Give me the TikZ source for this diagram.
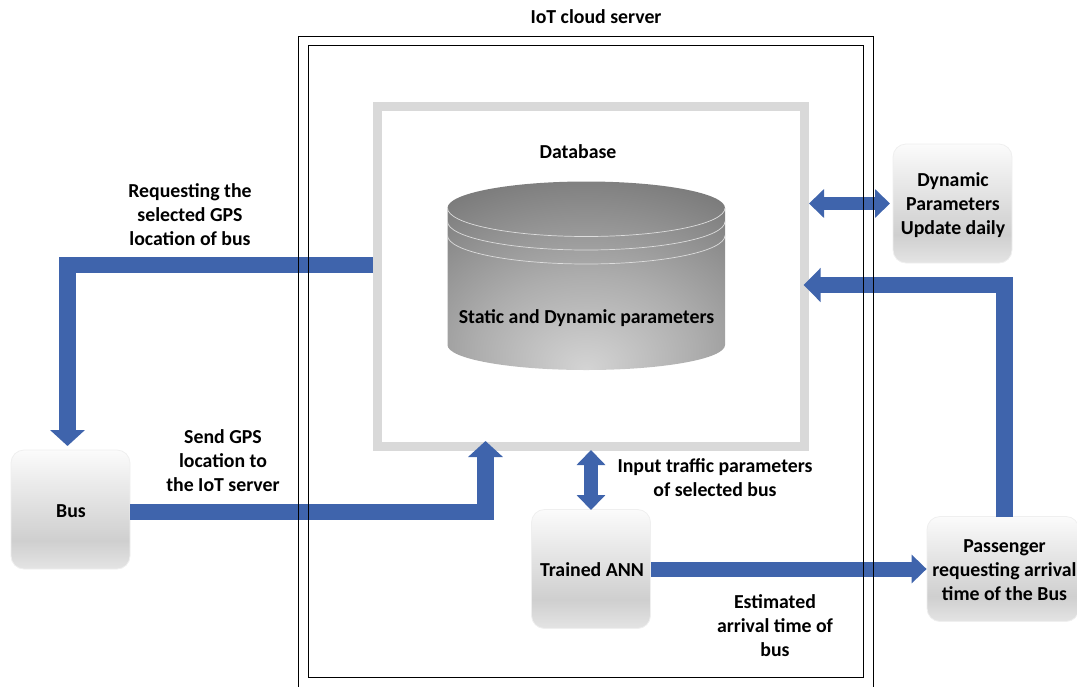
\documentclass[tikz,border=0pt]{standalone}
\usepackage{fontspec}
\setmainfont{Carlito}
\usetikzlibrary{arrows.meta,calc}
\definecolor{flowblue}{HTML}{3F64AC}
\definecolor{framegrey}{HTML}{D9D9D9}
\definecolor{boxedge}{HTML}{EFEFEF}
\definecolor{gA}{HTML}{FBFBFB}
\definecolor{gB}{HTML}{CFCFCF}
\definecolor{gC}{HTML}{E4E4E4}
\definecolor{cA}{HTML}{D4D4D4}
\definecolor{cB}{HTML}{ADADAD}
\definecolor{cC}{HTML}{929292}
\definecolor{cD}{HTML}{6A6A6A}
\definecolor{ringc}{HTML}{DDDDDD}
\pgfdeclareverticalshading{boxgrad}{100bp}{color(0bp)=(gC);color(25bp)=(gC);color(37bp)=(gB);color(75bp)=(gA);color(100bp)=(gA)}
\pgfdeclareradialshading{cylgrad}{\pgfpoint{0bp}{-25bp}}{color(0bp)=(cA);color(20bp)=(cB);color(32bp)=(cC);color(50bp)=(cD);color(100bp)=(cD)}
\tikzset{
  lbl/.style={font=\fontsize{19.8}{24}\selectfont\bfseries,align=center,inner sep=0pt,text=black},
  softbox/.style={lbl,draw=boxedge,line width=0.8pt,rounded corners=13pt,shading=boxgrad,minimum width=119pt,minimum height=119pt},
  serverframe/.style={draw=black,line width=1pt,inner sep=0pt},
  flow/.style={draw=flowblue,line width=16.5pt,line join=miter},
  tiph/.tip={Triangle[length=16pt,width=34pt]},
  tips/.tip={Triangle[length=15pt,width=28pt]}
}
\begin{document}
\begin{tikzpicture}[x=1pt,y=-1pt]
\useasboundingbox (0,0) rectangle (1077,686);
\clip (0,0) rectangle (1077,686);
% database frame
\node[draw=framegrey,line width=9pt,minimum width=427pt,minimum height=340.5pt,inner sep=0pt] (db) at (591,276.25) {};
% cylinder
\path[shading=cylgrad] (447.5,208) arc[start angle=180,end angle=360,x radius=138.75,y radius=26.5]
  -- (725,345) arc[start angle=0,end angle=180,x radius=138.75,y radius=25] -- cycle;
\foreach \yy in {208,221.5,235.5}
  \draw[ringc,line width=0.7pt] (447.5,\yy) arc[start angle=180,end angle=0,x radius=138.75,y radius=28.5];
% boxes
\node[softbox] (bus) at (70.5,509.5) {};
\node[softbox] (ann) at (591,569) {};
\node[softbox] (dyn) at (952.5,203.5) {};
\node[softbox,minimum width=152pt,minimum height=105pt] (pas) at (1003,569) {};
% free ends of connectors
\coordinate (busin) at (67.5,446);
\coordinate (dbS) at (485.5,441);
\coordinate (dbE1) at (809,203.5);
\coordinate (dyn1) at (890,203.5);
\coordinate (dbE2) at (803.5,285);
\coordinate (dbB) at (591,450);
\coordinate (annT) at (591,510);
% connectors
\draw[flow,-{tiph}] ([yshift=11.25pt]db.west) -| (busin);
\draw[flow,-{tiph}] ([yshift=-2.5pt]bus.east) -| (dbS);
\draw[draw=flowblue,line width=13.5pt,{tips}-{tips}] (dbE1) -- (dyn1);
\draw[flow,-{Triangle[length=17pt,width=33pt]}] (1004.5,517) |- (dbE2);
\draw[draw=flowblue,line width=14.5pt,{tips}-{tips}] (dbB) -- (annT);
\draw[draw=flowblue,line width=15pt,-{Triangle[length=15pt,width=28pt]}] (ann.east) -- (pas.west);
% server frames, over the connectors
\node[serverframe,minimum width=555pt,minimum height=632pt] (inner) at (585.5,361) {};
\node[serverframe,minimum width=575pt,minimum height=680pt] (outer) at (585.5,376) {};
% labels
\node[lbl] (cloud) at (596,16.5) {IoT cloud server};
\node[lbl] (dbl) at (578,151.5) {Database};
\node[lbl] (sdp) at (586.5,318.5) {Static and Dynamic parameters};
\node[lbl] (req) at (190,214.5) {Requesting the\\selected GPS\\location of bus};
\node[lbl] (send) at (223,461) {Send GPS\\location to\\the IoT server};
\node[lbl] (inp) at (715,478) {Input traffic parameters\\of selected bus};
\node[lbl] (est) at (775,626) {Estimated\\arrival time of\\bus};
\node[lbl] (busl) at (71,511) {Bus};
\node[lbl] (annl) at (592,570) {Trained ANN};
\node[lbl] (dynl) at (953,205) {Dynamic\\Parameters\\Update daily};
\node[lbl] (pasl) at (1004.5,570) {Passenger\\requesting arrival\\time of the Bus};
\end{tikzpicture}
\end{document}
